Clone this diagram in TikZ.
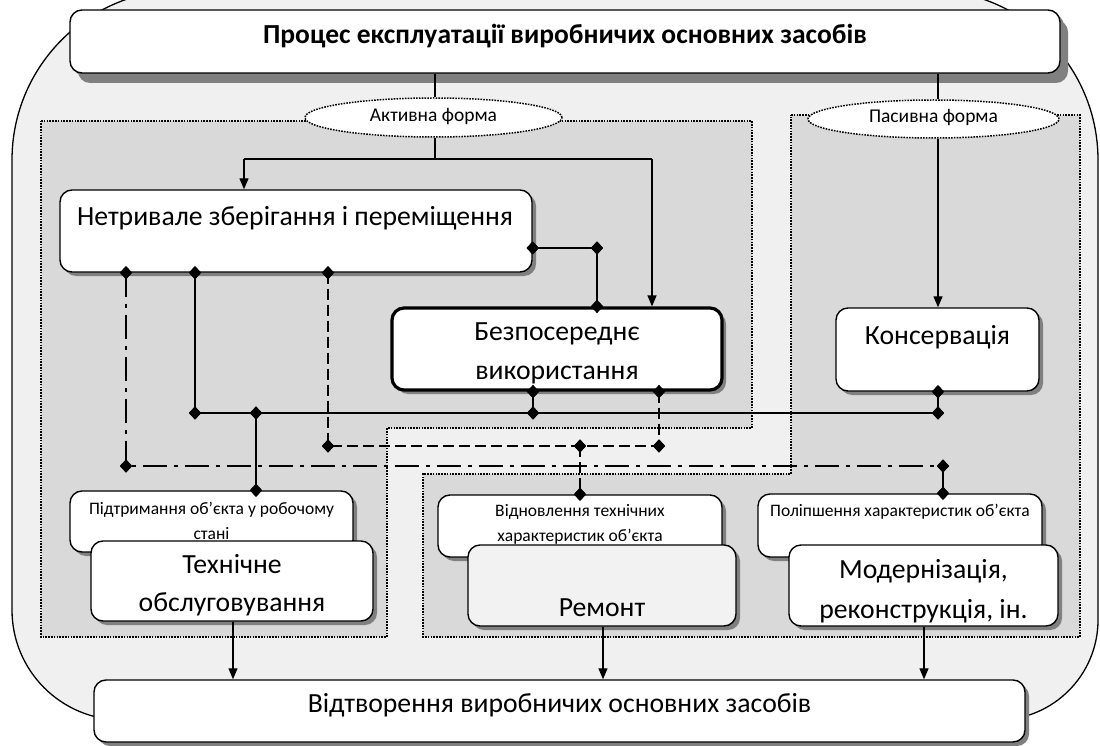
\documentclass[tikz,border=0pt]{standalone}
\usepackage{fontspec}
\setmainfont{Carlito}
\usetikzlibrary{shapes.geometric,shadows,arrows.meta}
\newcommand\myfs[2]{\fontsize{#1}{#2}\selectfont}
\begin{document}
\begin{tikzpicture}[x=1pt,y=-1pt,
  box/.style={draw, line width=1.4pt, rounded corners=12pt, fill=white, inner sep=0pt,
    general shadow={fill=black!50, shadow xshift=4pt, shadow yshift=-4pt}},
  txt/.style={inner sep=0pt, align=center},
  big/.style={txt, font=\myfs{27.7}{34}},
  small/.style={txt, font=\myfs{17.5}{25}},
  frame/.style={fill=black!15, draw, line width=1.6pt, dash pattern=on 1.6pt off 1.2pt},
  ell/.style={ellipse, draw, fill=white, line width=1.5pt, dash pattern=on 1.6pt off 1.2pt, inner sep=0pt},
  dia/.style={diamond, fill=black, inner sep=0pt, minimum width=12pt, minimum height=13pt},
  con/.style={line width=2.6pt},
  dsh/.style={line width=2.6pt, dash pattern=on 11pt off 5pt},
  dd/.style={line width=2.6pt, dash pattern=on 24pt off 7pt on 4pt off 7pt},
  arr/.style={line width=1.3pt, -{Triangle[length=11pt,width=9pt]}},
  thin/.style={line width=1.3pt}]
\useasboundingbox (0,0) rectangle (1100,746);
\clip (0,0) rectangle (1100,746);
% background
\draw[fill=black!6, line width=1.3pt] (12,160) .. controls (12,66.1) and (88.1,-10) .. (182,-10) -- (928,-10)
  .. controls (1021.9,-10) and (1098,66.1) .. (1098,160) -- (1098,620)
  .. controls (1098,675.1) and (1053.1,720) .. (998,720) -- (122,720)
  .. controls (61.2,720) and (12,670.8) .. (12,610) -- cycle;
% frames
\draw[frame] (41,121) -- (752,121) -- (752,428) -- (387,428) -- (387,637) -- (41,637) -- cycle;
\draw[frame] (791,115) -- (1080,115) -- (1080,637) -- (423,637) -- (423,474) -- (791,474) -- cycle;
% ellipses
\node[ell, minimum width=257pt, minimum height=39pt] (act) at (433.5,117.5) {};
\node[txt, font=\myfs{19.5}{22}] (tact) at (433.5,117) {Активна форма};
\node[ell, minimum width=251pt, minimum height=38pt] (pas) at (933.5,119) {};
\node[txt, font=\myfs{19.5}{22}] (tpas) at (933.5,118) {Пасивна форма};
% boxes
\node[box, minimum width=990pt, minimum height=63pt,
  general shadow={fill=black!50, shadow xshift=8pt, shadow yshift=-10pt}] (title) at (565,41.5) {};
\node[txt, font=\myfs{27.5}{32}\bfseries] (ttitle) at (565,36) {Процес експлуатації виробничих основних засобів};
\node[box, minimum width=472pt, minimum height=82pt] (nz) at (296,231) {};
\node[big] (tnz) at (295,218) {Нетривале зберігання і переміщення};
\node[box, line width=3.2pt, minimum width=330pt, minimum height=82pt] (bz) at (557,349) {};
\node[big, font=\myfs{27.7}{39}] (tbz) at (557,353) {Безпосереднє\\використання};
\node[box, minimum width=203pt, minimum height=83pt] (ks) at (937.5,349.5) {};
\node[big] (tks) at (937.5,337) {Консервація};
\node[box, minimum width=283pt, minimum height=61pt] (pd) at (211.5,521.5) {};
\node[small] (tpd) at (211.5,521) {Підтримання об’єкта у робочому\\стані};
\node[box, minimum width=282pt, minimum height=80pt] (to) at (232,581) {};
\node[big, font=\myfs{27.7}{38}] (tto) at (232,585.5) {Технічне\\обслуговування};
\node[box, minimum width=284pt, minimum height=62pt] (vn) at (580,526) {};
\node[small] (tvn) at (580,524) {Відновлення технічних\\характеристик об’єкта};
\node[box, fill=black!5, minimum width=268pt, minimum height=81pt] (rm) at (602,585.5) {};
\node[big] (trm) at (602,608) {Ремонт};
\node[box, minimum width=284pt, minimum height=63pt] (pl) at (900,525.5) {};
\node[small] (tpl) at (900,512) {Поліпшення характеристик об’єкта};
\node[box, minimum width=269pt, minimum height=81pt] (md) at (923.5,585.5) {};
\node[big, font=\myfs{27.7}{40}] (tmd) at (923.5,591) {Модернізація,\\реконструкція, ін.};
\node[box, minimum width=931pt, minimum height=62pt] (vd) at (559.5,711) {};
\node[big] (tvd) at (559.5,705) {Відтворення виробничих основних засобів};
% thin arrows
\coordinate (s1) at (435,159);
\coordinate (s2) at (244,159);
\coordinate (s3) at (652,159);
\draw[thin] (435,0 |- title.south) -- (435,0 |- act.north);
\draw[thin] (435,0 |- act.south) -- (s1);
\draw[thin] (s2) -- (s3);
\draw[arr] (s2) -- (244,0 |- nz.north);
\draw[arr] (s3) -- (652,0 |- bz.north);
\draw[thin] (938,0 |- title.south) -- (938,0 |- pas.north);
\draw[arr] (938,0 |- pas.south) -- (938,0 |- ks.north);
\draw[arr] (233,0 |- to.south) -- (233,0 |- vd.north);
\draw[arr] (603,0 |- rm.south) -- (603,0 |- vd.north);
\draw[arr] (924,0 |- md.south) -- (924,0 |- vd.north);
% diamonds
\node[dia] (d1) at (195,0 |- nz.south) {};
\node[dia] (d2) at (195,413) {};
\node[dia] (d3) at (533,0 |- bz.south) {};
\node[dia] (d4) at (533,413) {};
\node[dia] (d5) at (938,0 |- ks.south) {};
\node[dia] (d6) at (938,413) {};
\node[dia] (d7) at (256,413) {};
\node[dia] (d8) at (256,0 |- pd.north) {};
\node[dia] (d9) at (nz.east |- 0,248) {};
\node[dia] (d10) at (597,248) {};
\node[dia] (d11) at (597,0 |- bz.north) {};
\node[dia] (e1) at (328,0 |- nz.south) {};
\node[dia] (e2) at (328,446) {};
\node[dia] (e3) at (659,0 |- bz.south) {};
\node[dia] (e4) at (659,446) {};
\node[dia] (e5) at (580,446) {};
\node[dia] (e6) at (580,0 |- vn.north) {};
\node[dia] (f1) at (126,0 |- nz.south) {};
\node[dia] (f2) at (126,466) {};
\node[dia] (f3) at (943,466) {};
\node[dia] (f4) at (943,0 |- pl.north) {};
% solid connectors
\draw[con] (d1.center) -- (d2.center) -- (d6.center);
\draw[con] (d3.center) -- (d4.center);
\draw[con] (d5.center) -- (d6.center);
\draw[con] (d7.center) -- (d8.center);
\draw[con] (d9.center) -- (d10.center) -- (d11.center);
% dashed connectors
\draw[dsh] (e1.center) -- (e2.center) -- (e4.center);
\draw[dsh] (e3.center) -- (e4.center);
\draw[dsh] (e5.center) -- (e6.center);
% dash-dot connectors
\draw[dd] (f1.center) -- (f2.center) -- (f3.center);
\draw[con] (f3.center) -- (f4.center);
% diamonds on top
\foreach \n in {d1,d2,d3,d4,d5,d6,d7,d8,d9,d10,d11,e1,e2,e3,e4,e5,e6,f1,f2,f3,f4}
  \fill (\n.north) -- (\n.east) -- (\n.south) -- (\n.west) -- cycle;
\end{tikzpicture}
\end{document}
